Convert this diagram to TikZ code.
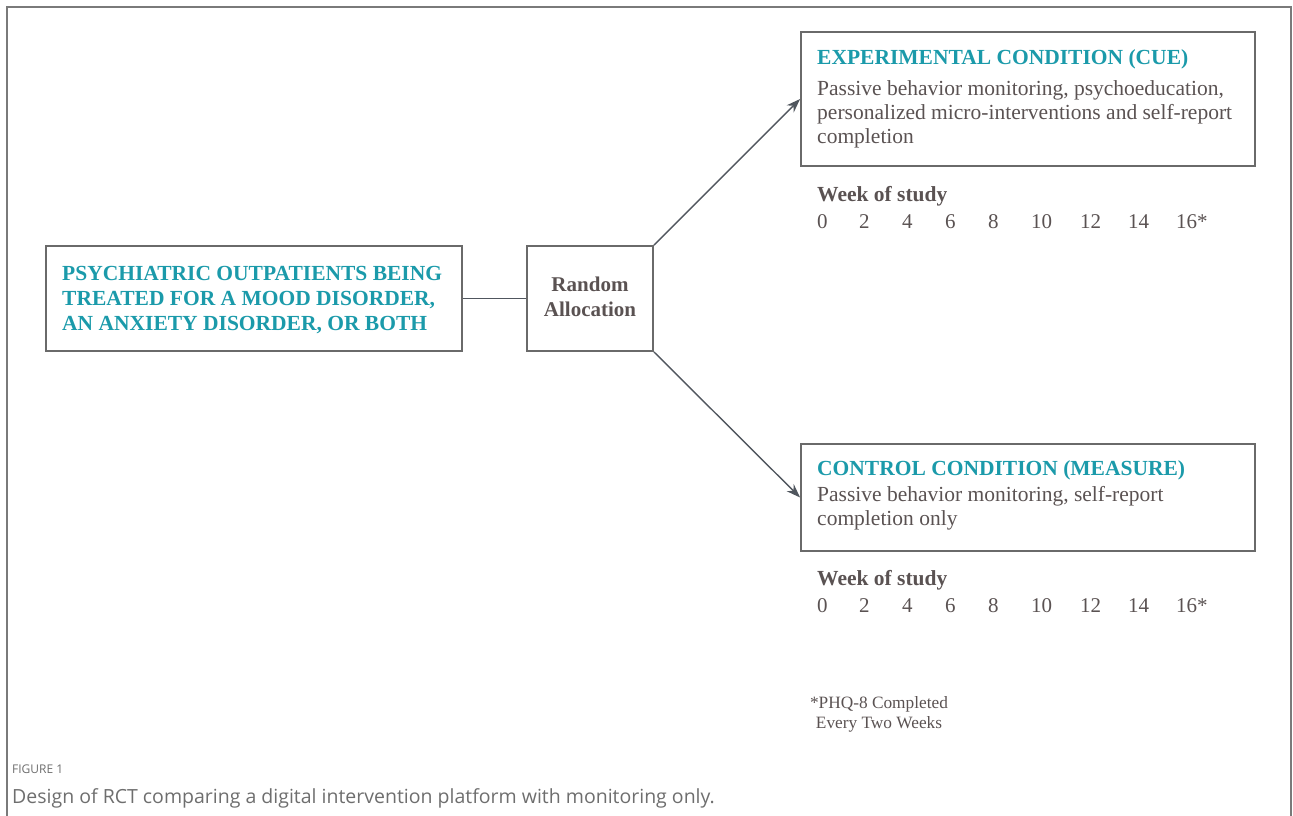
\documentclass[tikz,border=0pt]{standalone}
\usepackage{fontspec}
\setmainfont{Liberation Serif}
\newfontfamily\capfont{Open Sans}
\usetikzlibrary{arrows.meta}
\definecolor{tealc}{HTML}{1B9AAA}
\definecolor{txtc}{HTML}{5A5252}
\definecolor{boxc}{HTML}{6A6A6A}
\definecolor{arrc}{HTML}{50565E}
\definecolor{framec}{HTML}{7A7A7A}
\definecolor{capc}{HTML}{6E6E6E}
\begin{document}
\begin{tikzpicture}[x=1pt,y=-1pt,
  boxnode/.style={draw=boxc, line width=1.8pt, inner sep=0pt, rectangle},
  headtxt/.style={font=\bfseries\fontsize{21.5}{25}\selectfont, text=tealc, inner sep=0pt},
  bodytxt/.style={font=\fontsize{21.5}{24}\selectfont, text=txtc, inner sep=0pt},
  weektxt/.style={font=\bfseries\fontsize{21.5}{25}\selectfont, text=txtc, inner sep=0pt},
  numtxt/.style={font=\fontsize{21}{24}\selectfont, text=txtc, inner sep=0pt, anchor=base west},
  conn/.style={draw=arrc, line width=1.4pt},
  arrowc/.style={conn, -{Stealth[length=14pt,width=10pt]}}]
\useasboundingbox (0,0) rectangle (1293,816);
\draw[framec, line width=1.3pt] (7,816) -- (7,7) -- (1291,7) -- (1291,816);

% boxes
\node[boxnode, minimum width=416pt, minimum height=105pt] (pat) at (254,298.5) {};
\node[boxnode, minimum width=126pt, minimum height=105pt] (rand) at (590,298.5) {};
\node[boxnode, minimum width=454pt, minimum height=134pt] (exp) at (1028,99) {};
\node[boxnode, minimum width=454pt, minimum height=107pt] (ctrl) at (1028,497.5) {};

% texts (base anchor = baseline of last line)
\node[headtxt, align=left, anchor=base west] (pattxt) at (62,330)
  {PSYCHIATRIC OUTPATIENTS BEING\\TREATED FOR A MOOD DISORDER,\\AN ANXIETY DISORDER, OR BOTH};
\node[weektxt, font=\bfseries\fontsize{21}{25}\selectfont, align=center, anchor=base] (randtxt) at (590,316) {Random\\Allocation};

\node[headtxt, anchor=base west] (exph) at (817,64) {EXPERIMENTAL CONDITION (CUE)};
\node[bodytxt, align=left, anchor=base west] (expb) at (817,143)
  {Passive behavior monitoring, psychoeducation,\\personalized micro-interventions and self-report\\completion};
\node[weektxt, anchor=base west] (expw) at (817,201) {Week of study};
\foreach \xx/\tt [count=\i] in {817/0,859/2,902/4,945/6,988/8,1031/10,1080/12,1128/14,1176/16*}
  \node[numtxt] (expn\i) at (\xx,228) {\tt};

\node[headtxt, anchor=base west] (ctrlh) at (817,475) {CONTROL CONDITION (MEASURE)};
\node[bodytxt, align=left, anchor=base west] (ctrlb) at (817,525)
  {Passive behavior monitoring, self-report\\completion only};
\node[weektxt, anchor=base west] (ctrlw) at (817,585) {Week of study};
\foreach \xx/\tt [count=\i] in {817/0,859/2,902/4,945/6,988/8,1031/10,1080/12,1128/14,1176/16*}
  \node[numtxt] (ctrln\i) at (\xx,612) {\tt};

\node[font=\fontsize{17.3}{20}\selectfont, text=txtc, align=center, anchor=base, inner sep=0pt] (foot) at (879,728)
  {*PHQ-8 Completed\\Every Two Weeks};

% caption
\node[font=\capfont\fontsize{12}{14}\selectfont, text=capc, anchor=base west, inner sep=0pt] (figlab) at (12,773) {FIGURE 1};
\node[font=\capfont\fontsize{19.5}{22}\selectfont, text=capc, anchor=base west, inner sep=0pt] (figcap) at (12,803)
  {Design of RCT comparing a digital intervention platform with monitoring only.};

% connectors
\draw[conn] (pat.east) -- (rand.west);
\draw[arrowc] (rand.north east) -- (exp.west);
\draw[arrowc] (rand.south east) -- (ctrl.west);
\end{tikzpicture}
\end{document}
